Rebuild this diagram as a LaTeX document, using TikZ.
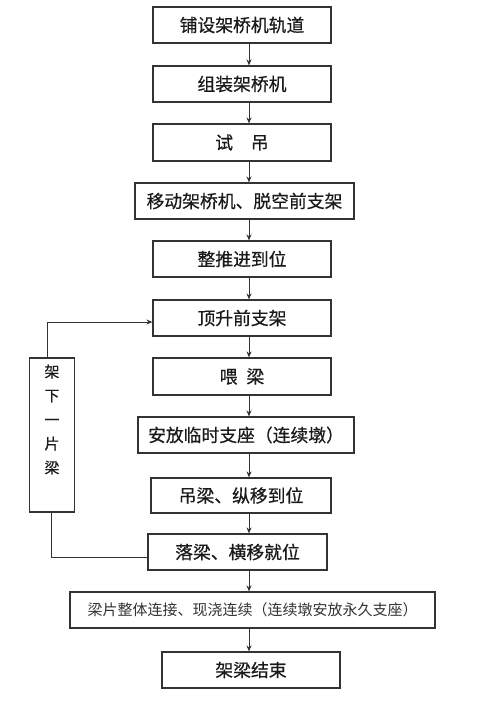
\documentclass[tikz,border=0pt]{standalone}
\usepackage{fontspec}
\setmainfont{Noto Sans CJK SC}
\newfontfamily\boxfont[FakeBold=0.6]{Noto Sans CJK SC}
\usetikzlibrary{arrows.meta}
\definecolor{ln}{HTML}{333333}
\definecolor{tx}{HTML}{1A1A1A}
\begin{document}
\begin{tikzpicture}[x=1pt,y=-1pt,
  box/.style={draw=ln,line width=1.1pt,minimum height=36pt,inner sep=0pt,text=tx,
    font=\boxfont\fontsize{17.8}{20}\selectfont},
  conn/.style={draw=ln,line width=1pt,-{Stealth[length=6pt,width=5pt]}},
  wire/.style={draw=ln,line width=1pt}]
\useasboundingbox (0,0) rectangle (476,703);
\node[box,minimum width=178pt] (b1) at (242,25) {铺设架桥机轨道};
\node[box,minimum width=178pt] (b2) at (242,84) {组装架桥机};
\node[box,minimum width=178pt,minimum height=37pt] (b3) at (242,142.5) {试\hspace{1em}吊};
\node[box,minimum width=219pt] (b4) at (244.5,201) {移动架桥机、脱空前支架};
\node[box,minimum width=178pt] (b5) at (242,259) {整推进到位};
\node[box,minimum width=178pt] (b6) at (242,318) {顶升前支架};
\node[box,minimum width=178pt,minimum height=37pt] (b7) at (242,376.5) {喂\hspace{0.5em}梁};
\node[box,minimum width=216pt] (b8) at (246,435) {安放临时支座（连续墩）};
\node[box,minimum width=180pt,minimum height=35pt] (b9) at (241,495.5) {吊梁、纵移到位};
\node[box,minimum width=179pt] (b10) at (237.5,552) {落梁、横移就位};
\node[box,minimum width=365pt,text=ln,font=\fontsize{15}{18}\selectfont] (b11) at (252.5,610) {梁片整体连接、现浇连续（连续墩安放永久支座）};
\node[box,minimum width=178pt] (b12) at (251,670) {架梁结束};
\node[box,minimum width=45pt,minimum height=154pt,align=center,text depth=32pt,
  font=\boxfont\fontsize{15}{24}\selectfont] (side) at (52,435) {架\\下\\一\\片\\梁};
\coordinate (ax) at (249,0);
\foreach \a/\b in {b1/b2,b2/b3,b3/b4,b4/b5,b5/b6,b6/b7,b7/b8,b8/b9,b9/b10,b10/b11,b11/b12}
  \draw[conn] (\a.south -| ax) -- (\b.north -| ax);
\draw[conn] ([xshift=-5pt]side.north) |- ([yshift=-4pt]b6.west);
\draw[wire] ([yshift=-5pt]b10.west) -| ([xshift=-1pt]side.south);
\end{tikzpicture}
\end{document}
